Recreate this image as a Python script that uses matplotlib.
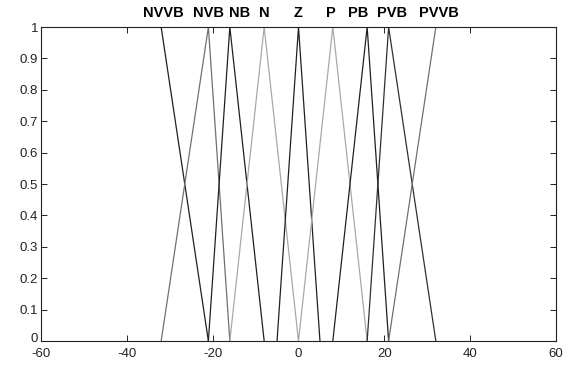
import numpy as np
import matplotlib
matplotlib.use('Agg')
import matplotlib.pyplot as plt
from matplotlib.transforms import ScaledTranslation

# membership functions: name, breakpoints (x), membership (y), colour
names = ['NVVB', 'NVB', 'NB', 'N', 'Z', 'P', 'PB', 'PVB', 'PVVB']
xs = [[-60, -32, -21],
      [-32, -21, -16],
      [-21, -16, -8],
      [-16, -8, 0],
      [-5, 0, 5],
      [0, 8, 16],
      [8, 16, 21],
      [16, 21, 32],
      [21, 32, 60]]
ys = [[1, 1, 0],
      [0, 1, 0],
      [0, 1, 0],
      [0, 1, 0],
      [0, 1, 0],
      [0, 1, 0],
      [0, 1, 0],
      [0, 1, 0],
      [0, 1, 1]]
colors = ['#202020', '#707070', '#202020', '#a8a8a8', '#202020',
          '#a8a8a8', '#202020', '#303030', '#707070']
label_x = [-31.5, -21, -13.7, -8, 0, 7.5, 13.8, 21.7, 32.8]

plt.rcParams['font.family'] = ['Liberation Sans', 'DejaVu Sans']
plt.rcParams['axes.unicode_minus'] = False

fig = plt.figure(figsize=(5.8, 3.71), dpi=100)
ax = fig.add_axes([0.0707, 0.0809, 0.8879, 0.8461])

for x, y, c in zip(xs, ys, colors):
    ax.plot(x, y, '-', color=c, lw=0.9)

for name, lx in zip(names, label_x):
    ax.text(lx, 1.045, name, ha='center', va='center', fontsize=10.5,
            fontweight='bold', clip_on=False)

ax.set_xlim(-60, 60)
ax.set_ylim(0, 1)
ax.set_xticks(np.arange(-60, 61, 20))
ax.set_yticks(np.arange(0, 1.01, 0.1))
ax.set_yticklabels(['0', '0.1', '0.2', '0.3', '0.4', '0.5', '0.6', '0.7',
                    '0.8', '0.9', '1'])
ax.tick_params(direction='in', length=4, width=0.7, labelsize=9.5,
               colors='#222222', top=True, right=True, pad=2)
ax.tick_params(axis='x', pad=5)
for s in ax.spines.values():
    s.set_linewidth(0.8)
    s.set_color('#222222')

# lift the "0" label a little so it clears "-60", as in the original
lab0 = ax.get_yticklabels()[0]
lab0.set_transform(lab0.get_transform() +
                   ScaledTranslation(0, 2.5 / 72, fig.dpi_scale_trans))

fig.savefig('out.png', dpi=100)
